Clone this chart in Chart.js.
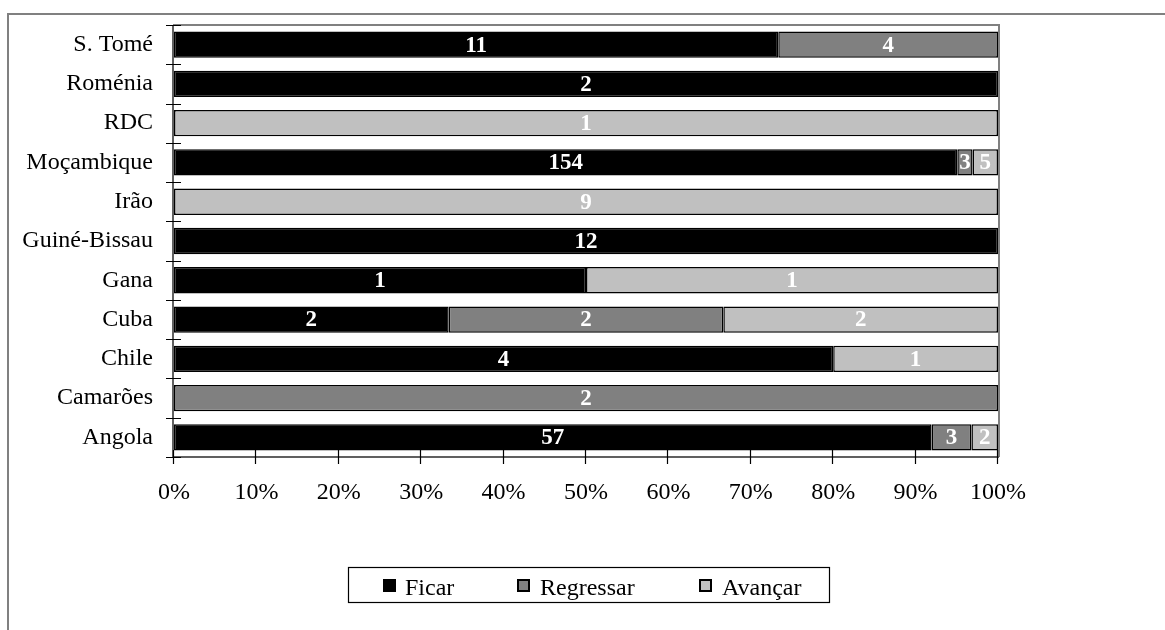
<!DOCTYPE html>
<html>
<head>
<meta charset="UTF-8" />
<title>Ficar, Regressar, Avançar</title>
<script src="https://cdn.jsdelivr.net/npm/chart.js"></script>
<style>
  html, body { margin: 0; padding: 0; background: #fff; }
  #wrap { position: relative; width: 1165px; height: 630px; }
</style>
</head>
<body>
<div id="wrap"><canvas id="chart"></canvas></div>
<script>
// countries, top to bottom
const paises = ['S. Tomé', 'Roménia', 'RDC', 'Moçambique', 'Irão', 'Guiné-Bissau', 'Gana', 'Cuba', 'Chile', 'Camarões', 'Angola'];
const ficar     = [11, 2, 0, 154, 0, 12, 1, 2, 4, 0, 57];
const regressar = [4, 0, 0, 3, 0, 0, 0, 2, 0, 2, 3];
const avancar   = [0, 0, 1, 5, 9, 0, 1, 2, 1, 0, 2];
const xTicks = [0, 10, 20, 30, 40, 50, 60, 70, 80, 90, 100];

const series = [
  { label: 'Ficar', counts: ficar, color: '#000000' },
  { label: 'Regressar', counts: regressar, color: '#808080' },
  { label: 'Avançar', counts: avancar, color: '#c0c0c0' }
];
const totals = paises.map((p, i) => ficar[i] + regressar[i] + avancar[i]);

const SERIF = '"Liberation Serif", "Times New Roman", serif';

const datasets = series.map(s => ({
  label: s.label,
  counts: s.counts,
  data: s.counts.map((v, i) => v / totals[i] * 100),
  backgroundColor: s.color,
  borderColor: '#000',
  borderWidth: 1.5,
  borderSkipped: false,
  categoryPercentage: 1,
  barPercentage: 0.67
}));

const extras = {
  id: 'extras',
  beforeDraw(chart) {
    const ctx = chart.ctx;
    ctx.save();
    ctx.fillStyle = '#fff';
    ctx.fillRect(0, 0, chart.width, chart.height);
    // outer frame
    ctx.strokeStyle = '#808080';
    ctx.lineWidth = 2;
    ctx.strokeRect(8, 14, 1170, 700);
    ctx.restore();
  },
  afterDatasetsDraw(chart) {
    const ctx = chart.ctx;
    const a = chart.chartArea;
    const xs = chart.scales.x, ys = chart.scales.y;
    ctx.save();

    // value labels
    ctx.font = 'bold 23px ' + SERIF;
    ctx.fillStyle = '#fff';
    ctx.textAlign = 'center';
    ctx.textBaseline = 'middle';
    chart.data.datasets.forEach((ds, di) => {
      const meta = chart.getDatasetMeta(di);
      meta.data.forEach((el, i) => {
        if (!ds.counts[i]) return;
        const p = el.getProps(['x', 'y', 'base'], true);
        ctx.fillText(String(ds.counts[i]), (p.x + p.base) / 2, p.y + 1);
      });
    });

    // plot area edges
    ctx.strokeStyle = '#808080';
    ctx.lineWidth = 2;
    ctx.beginPath();
    ctx.moveTo(a.left - 1, a.top);
    ctx.lineTo(a.right + 1, a.top);
    ctx.lineTo(a.right + 1, a.bottom);
    ctx.stroke();
    ctx.strokeStyle = '#606060';
    ctx.beginPath();
    ctx.moveTo(a.left - 1, a.top);
    ctx.lineTo(a.left - 1, a.bottom);
    ctx.lineTo(a.right + 1, a.bottom);
    ctx.stroke();

    // tick marks crossing the axes
    ctx.strokeStyle = '#000';
    ctx.lineWidth = 1.2;
    ctx.beginPath();
    for (let i = 0; i <= paises.length; i++) {
      const y = Math.round(ys.getPixelForValue(i - 0.5)) + 0.5;
      ctx.moveTo(a.left - 8, y);
      ctx.lineTo(a.left + 7, y);
    }
    xTicks.forEach(v => {
      const x = Math.round(xs.getPixelForValue(v)) - 0.5;
      ctx.moveTo(x, a.bottom - 7);
      ctx.lineTo(x, a.bottom + 7);
    });
    ctx.stroke();

    // legend
    ctx.strokeStyle = '#000';
    ctx.lineWidth = 1.2;
    ctx.strokeRect(348.5, 567.5, 481, 35);
    const mx = [383, 517, 699];
    const tx = [405, 540, 722];
    ctx.font = '24px ' + SERIF;
    ctx.textAlign = 'left';
    ctx.textBaseline = 'alphabetic';
    chart.data.datasets.forEach((ds, di) => {
      ctx.fillStyle = ds.backgroundColor;
      ctx.fillRect(mx[di], 579, 12, 12);
      ctx.lineWidth = 2;
      ctx.strokeRect(mx[di] + 1, 580, 11, 11);
      ctx.fillStyle = '#000';
      ctx.fillText(ds.label, tx[di], 595);
    });

    ctx.restore();
  }
};

new Chart(document.getElementById('chart'), {
  type: 'bar',
  data: { labels: paises, datasets: datasets },
  plugins: [extras],
  options: {
    indexAxis: 'y',
    responsive: true,
    maintainAspectRatio: false,
    animation: false,
    layout: { padding: { top: 25, right: 167, bottom: 0, left: 0 } },
    plugins: {
      legend: { display: false },
      tooltip: { enabled: false }
    },
    scales: {
      x: {
        stacked: true,
        min: 0,
        max: 100,
        afterBuildTicks: s => { s.ticks = xTicks.map(v => ({ value: v })); },
        afterFit: s => {
          s.height = 173;
          s.paddingLeft = 0;
          s.paddingRight = 0;
        },
        grid: { display: false, drawTicks: false },
        border: { display: false },
        ticks: {
          padding: 21,
          color: '#000',
          font: { family: SERIF, size: 24 },
          maxRotation: 0,
          callback: v => v + '%'
        }
      },
      y: {
        stacked: true,
        afterFit: s => {
          s.width = 174;
          s.paddingTop = 0;
          s.paddingBottom = 0;
        },
        grid: { display: false, drawTicks: false },
        border: { display: false },
        ticks: {
          padding: 21,
          color: '#000',
          font: { family: SERIF, size: 24 },
          autoSkip: false
        }
      }
    }
  }
});
</script>
</body>
</html>
